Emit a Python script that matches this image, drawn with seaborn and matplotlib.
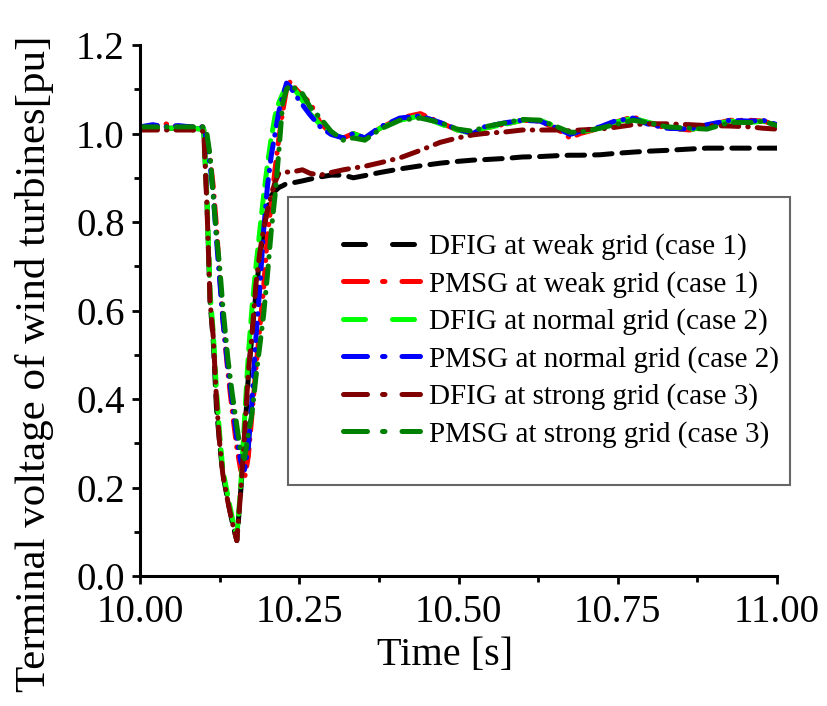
import pandas as pd
import matplotlib
matplotlib.use("Agg")
import matplotlib.pyplot as plt
import matplotlib.ticker as mticker
from matplotlib.lines import Line2D
from matplotlib.patches import Rectangle
import seaborn as sns

# ── Data ────────────────────────────────────────────────────────────────────
time_s = [10.00, 10.02, 10.04, 10.06, 10.08,
          10.10, 10.105, 10.11, 10.115, 10.12, 10.125, 10.13,
          10.138, 10.145, 10.152, 10.158, 10.164, 10.17, 10.176, 10.182, 10.188, 10.194,
          10.2, 10.206, 10.212, 10.218, 10.224, 10.23, 10.236, 10.245, 10.255, 10.267,
          10.283, 10.3, 10.319, 10.335, 10.353, 10.377, 10.408, 10.44, 10.471, 10.498,
          10.523, 10.54, 10.576, 10.6, 10.628, 10.655, 10.675, 10.691, 10.722, 10.745,
          10.774, 10.796, 10.827, 10.863, 10.89, 10.926, 10.958, 10.978, 11.0]

dfig_weak = [1.012, 1.012, 1.012, 1.012, 1.012,
             1.010, 0.85, 0.62, 0.53, 0.38, 0.30, 0.23,
             0.17, 0.12, 0.08, 0.19, 0.31, 0.45, 0.55, 0.64, 0.72, 0.78,
             0.83, 0.86, 0.87, 0.878, 0.882, 0.887, 0.888, 0.89, 0.893, 0.897,
             0.902, 0.906, 0.906, 0.900, 0.905, 0.912, 0.920, 0.927, 0.933, 0.937,
             0.940, 0.941, 0.944, 0.947, 0.948, 0.950, 0.951, 0.951, 0.952, 0.955,
             0.958, 0.960, 0.962, 0.965, 0.967, 0.967, 0.967, 0.967, 0.967]

pmsg_weak = [1.015, 1.015, 1.022, 1.015, 1.015,
             1.015, 0.99, 0.945, 0.88, 0.79, 0.68, 0.58,
             0.46, 0.37, 0.29, 0.24, 0.22, 0.27, 0.37, 0.47, 0.56, 0.65,
             0.77, 0.84, 0.92, 0.99, 1.05, 1.10, 1.118, 1.10, 1.085, 1.07,
             1.024, 1.000, 0.990, 1.000, 0.990, 1.012, 1.035, 1.045, 1.025, 1.008,
             1.000, 1.012, 1.022, 1.030, 1.028, 1.010, 0.990, 1.000, 1.012, 1.025,
             1.038, 1.025, 1.012, 1.008, 1.018, 1.030, 1.030, 1.028, 1.020]

dfig_normal = [1.012, 1.012, 1.012, 1.012, 1.012,
               1.010, 0.86, 0.64, 0.55, 0.42, 0.32, 0.24,
               0.18, 0.13, 0.09, 0.20, 0.35, 0.50, 0.61, 0.70, 0.78, 0.86,
               0.93, 0.99, 1.04, 1.07, 1.09, 1.105, 1.11, 1.095, 1.075, 1.045,
               1.020, 1.000, 0.990, 1.000, 0.990, 1.012, 1.030, 1.040, 1.022, 1.008,
               1.000, 1.012, 1.022, 1.030, 1.030, 1.015, 1.000, 1.003, 1.012, 1.025,
               1.035, 1.026, 1.015, 1.008, 1.018, 1.028, 1.025, 1.028, 1.018]

pmsg_normal = [1.015, 1.020, 1.015, 1.018, 1.015,
               1.015, 0.98, 0.93, 0.86, 0.76, 0.67, 0.58,
               0.47, 0.39, 0.31, 0.26, 0.24, 0.29, 0.40, 0.54, 0.65, 0.78,
               0.88, 0.95, 1.00, 1.05, 1.085, 1.114, 1.105, 1.085, 1.065, 1.042,
               1.015, 0.998, 0.990, 1.000, 0.990, 1.015, 1.035, 1.040, 1.025, 1.010,
               1.000, 1.015, 1.025, 1.030, 1.028, 1.012, 0.998, 1.005, 1.015, 1.028,
               1.035, 1.022, 1.012, 1.010, 1.020, 1.030, 1.028, 1.030, 1.020]

dfig_strong = [1.008, 1.008, 1.008, 1.008, 1.008,
               1.005, 0.84, 0.62, 0.54, 0.40, 0.30, 0.23,
               0.167, 0.12, 0.08, 0.19, 0.32, 0.46, 0.55, 0.66, 0.73, 0.785,
               0.825, 0.86, 0.89, 0.91, 0.913, 0.913, 0.913, 0.915, 0.918, 0.910,
               0.906, 0.912, 0.918, 0.922, 0.926, 0.934, 0.945, 0.962, 0.980, 0.990,
               0.997, 1.000, 1.004, 1.008, 1.008, 1.008, 1.006, 1.008, 1.010, 1.014,
               1.020, 1.022, 1.022, 1.020, 1.018, 1.017, 1.015, 1.012, 1.010]

pmsg_strong = [1.015, 1.015, 1.015, 1.015, 1.015,
               1.015, 1.00, 0.95, 0.86, 0.77, 0.70, 0.61,
               0.49, 0.41, 0.34, 0.28, 0.265, 0.32, 0.37, 0.45, 0.52, 0.59,
               0.68, 0.78, 0.86, 0.96, 1.07, 1.10, 1.11, 1.10, 1.09, 1.06,
               1.035, 1.005, 0.985, 0.990, 0.985, 1.010, 1.030, 1.035, 1.025, 1.010,
               1.005, 1.015, 1.025, 1.032, 1.030, 1.015, 1.003, 1.003, 1.012, 1.020,
               1.030, 1.025, 1.015, 1.012, 1.010, 1.025, 1.025, 1.028, 1.018]

labels = ["DFIG at weak grid (case 1)", "PMSG at weak grid (case 1)",
          "DFIG at normal grid (case 2)", "PMSG at normal grid (case 2)",
          "DFIG at strong grid (case 3)", "PMSG at strong grid (case 3)"]
series = [dfig_weak, pmsg_weak, dfig_normal, pmsg_normal, dfig_strong, pmsg_strong]
colors = ["#000000", "#FF0000", "#00FF00", "#0000FF", "#800000", "#008000"]

# ── Style ───────────────────────────────────────────────────────────────────
sns.set_style("ticks", {"axes.edgecolor": "black", "text.color": "black",
                        "axes.labelcolor": "black", "xtick.color": "black",
                        "ytick.color": "black"})
plt.rcParams["font.family"] = ["Liberation Serif", "DejaVu Serif"]

LW = 3.6
DASH = (3.5, 2.0)
DASHDOT = (3.5, 1.8, 0.1, 1.8)
plot_dashes = dict(zip(labels, [DASH, DASHDOT, DASH, DASHDOT, DASHDOT, DASHDOT]))
leg_dashes = [(4.4, 5.4), (4.8, 3.0, 0.5, 3.4), (4.4, 5.4),
              (4.8, 3.0, 0.5, 3.4), (4.8, 3.0, 0.5, 3.4), (4.8, 3.0, 0.5, 3.4)]

df = pd.concat([pd.DataFrame({"time": time_s, "voltage": vals, "case": lab})
                for lab, vals in zip(labels, series)], ignore_index=True)

fig = plt.figure(figsize=(8.27, 7.06), dpi=100)
ax = fig.add_axes([0.1693, 0.1841, 0.7703, 0.7521])

sns.lineplot(data=df, x="time", y="voltage", hue="case", style="case",
             hue_order=labels, style_order=labels,
             palette=dict(zip(labels, colors)), dashes=plot_dashes,
             estimator=None, sort=False, lw=LW, legend=False, ax=ax,
             dash_capstyle="round", solid_capstyle="round")

ax.set_xlim(10.0, 11.0)
ax.set_ylim(0.0, 1.2)
ax.xaxis.set_major_locator(mticker.MultipleLocator(0.25))
ax.xaxis.set_minor_locator(mticker.MultipleLocator(0.125))
ax.yaxis.set_major_locator(mticker.MultipleLocator(0.2))
ax.yaxis.set_minor_locator(mticker.MultipleLocator(0.1))
ax.xaxis.set_major_formatter(mticker.FormatStrFormatter("%.2f"))
ax.yaxis.set_major_formatter(mticker.FormatStrFormatter("%.1f"))

sns.despine(ax=ax)
for side in ("left", "bottom"):
    ax.spines[side].set_linewidth(2.2)
ax.tick_params(which="major", direction="out", length=6, width=2, labelsize=28)
ax.tick_params(axis="x", which="major", pad=7)
ax.tick_params(axis="y", which="major", pad=5)
ax.tick_params(which="minor", direction="out", length=4, width=2)

ax.set_xlabel("Time [s]", fontsize=29)
ax.set_ylabel("Terminal voltage of wind turbines[pu]", fontsize=31)
ax.xaxis.set_label_coords(0.479, -0.115)
ax.yaxis.set_label_coords(-0.135, 0.40)

# legend box drawn as its own frame, legend entries placed inside it
ax.add_patch(Rectangle((0.232, 0.171), 0.788, 0.543, transform=ax.transAxes,
                       facecolor="white", edgecolor="#666666", lw=1.5,
                       clip_on=False, zorder=5))
handles = [Line2D([0], [0], color=c, lw=LW, dashes=d, dash_capstyle="round")
           for c, d in zip(colors, leg_dashes)]
leg = ax.legend(handles, labels, loc="upper left", bbox_to_anchor=(0.318, 0.645),
                fontsize=21, frameon=False, borderpad=0, borderaxespad=0,
                labelspacing=0.36, handlelength=2.65, handletextpad=0.3)
leg.set_zorder(6)

fig.savefig("out.png", dpi=100)
